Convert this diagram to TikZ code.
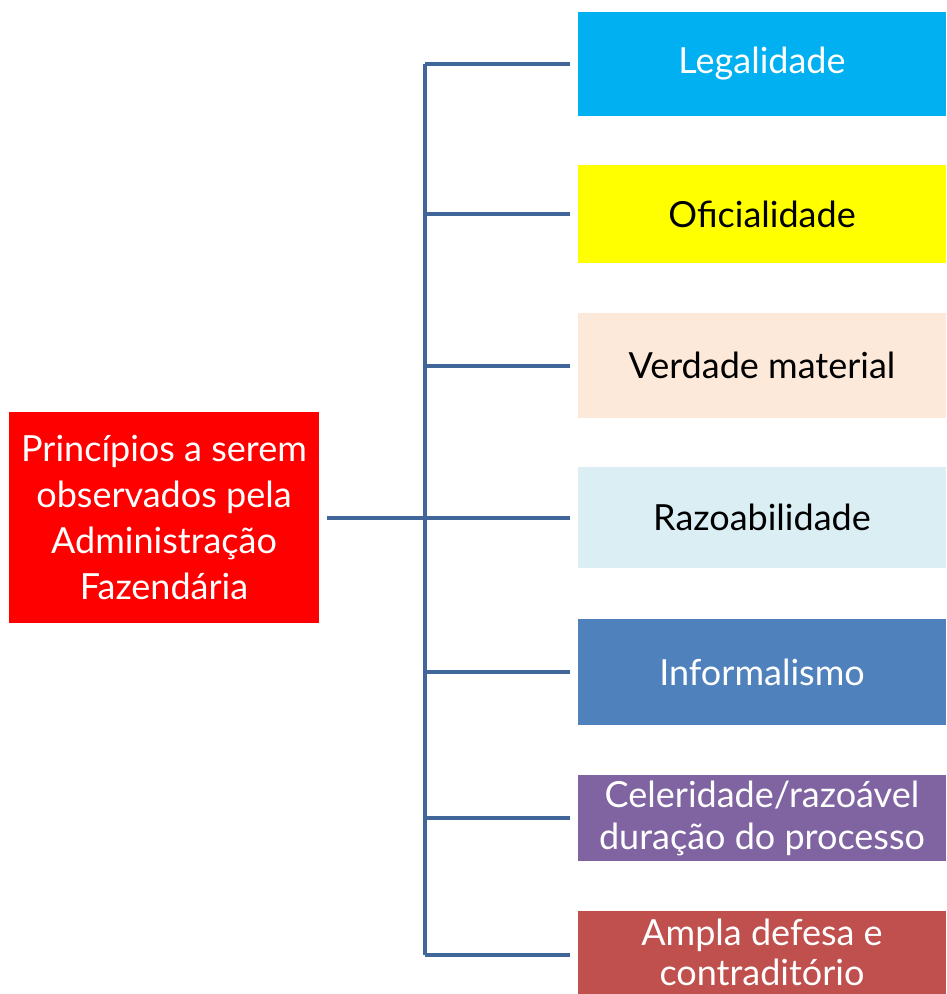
\documentclass[tikz,border=0pt]{standalone}
\usepackage{fontspec}
\setmainfont{Lato}
\usepackage{tikz}
\usetikzlibrary{positioning}
\definecolor{azul}{HTML}{00B0F0}
\definecolor{amarelo}{HTML}{FFFF00}
\definecolor{pessego}{HTML}{FDE9D9}
\definecolor{azulclaro}{HTML}{DAEEF3}
\definecolor{azulmedio}{HTML}{4F81BD}
\definecolor{roxo}{HTML}{8064A2}
\definecolor{vinho}{HTML}{C0504D}
\definecolor{linha}{HTML}{41679A}
\begin{document}
\begin{tikzpicture}[x=1pt, y=-1pt, line width=4pt, draw=linha,
        main/.style = {rectangle, minimum width=368pt, align=center, font=\fontsize{36}{42}\selectfont, inner sep=0pt},
        raiz/.style = {rectangle, fill=red, text=white, minimum width=310pt, minimum height=211pt, align=center, font=\fontsize{36}{46}\selectfont, inner sep=0pt}]
        \useasboundingbox (0,0) rectangle (946,994);
        \node[raiz] (0) at (164,517.5) {Princípios a serem\\observados pela\\Administração\\Fazendária};

        \node[main, fill=azul, text=white, minimum height=104pt] (1) at (762,64) {Legalidade};
        \node[main, fill=amarelo, text=black, minimum height=98pt] (2) at (762,214) {Oficialidade};
        \node[main, fill=pessego, text=black, minimum height=105pt] (3) at (762,365.5) {Verdade material};
        \node[main, fill=azulclaro, text=black, minimum height=101pt] (4) at (762,517.5) {Razoabilidade};
        \node[main, fill=azulmedio, text=white, minimum height=106pt] (5) at (762,672) {Informalismo};
        \node[main, fill=roxo, text=white, minimum height=86pt] (6) at (762,818) {Celeridade/razoável\\duração do processo};
        \node[main, fill=vinho, text=white, minimum height=83pt, font=\fontsize{36}{40}\selectfont] (7) at (762,952.5) {Ampla defesa e\\contraditório};

        \coordinate (t1) at (425,64);
        \coordinate (t2) at (425,214);
        \coordinate (t3) at (425,365.5);
        \coordinate (t4) at (425,517.5);
        \coordinate (t5) at (425,672);
        \coordinate (t6) at (425,818);
        \coordinate (t7) at (425,955);

        \draw (t1) -- (t7);
        \draw[shorten <=6pt] (0) -- (t4);

        \draw[shorten >=6pt] (t1) -- (1);
        \draw[shorten >=6pt] (t2) -- (2);
        \draw[shorten >=6pt] (t3) -- (3);
        \draw[shorten >=6pt] (t4) -- (4);
        \draw[shorten >=6pt] (t5) -- (5);
        \draw[shorten >=6pt] (t6) -- (6);
        \draw[shorten >=6pt] (t7) -- (7.west |- t7);
    \end{tikzpicture}
\end{document}
